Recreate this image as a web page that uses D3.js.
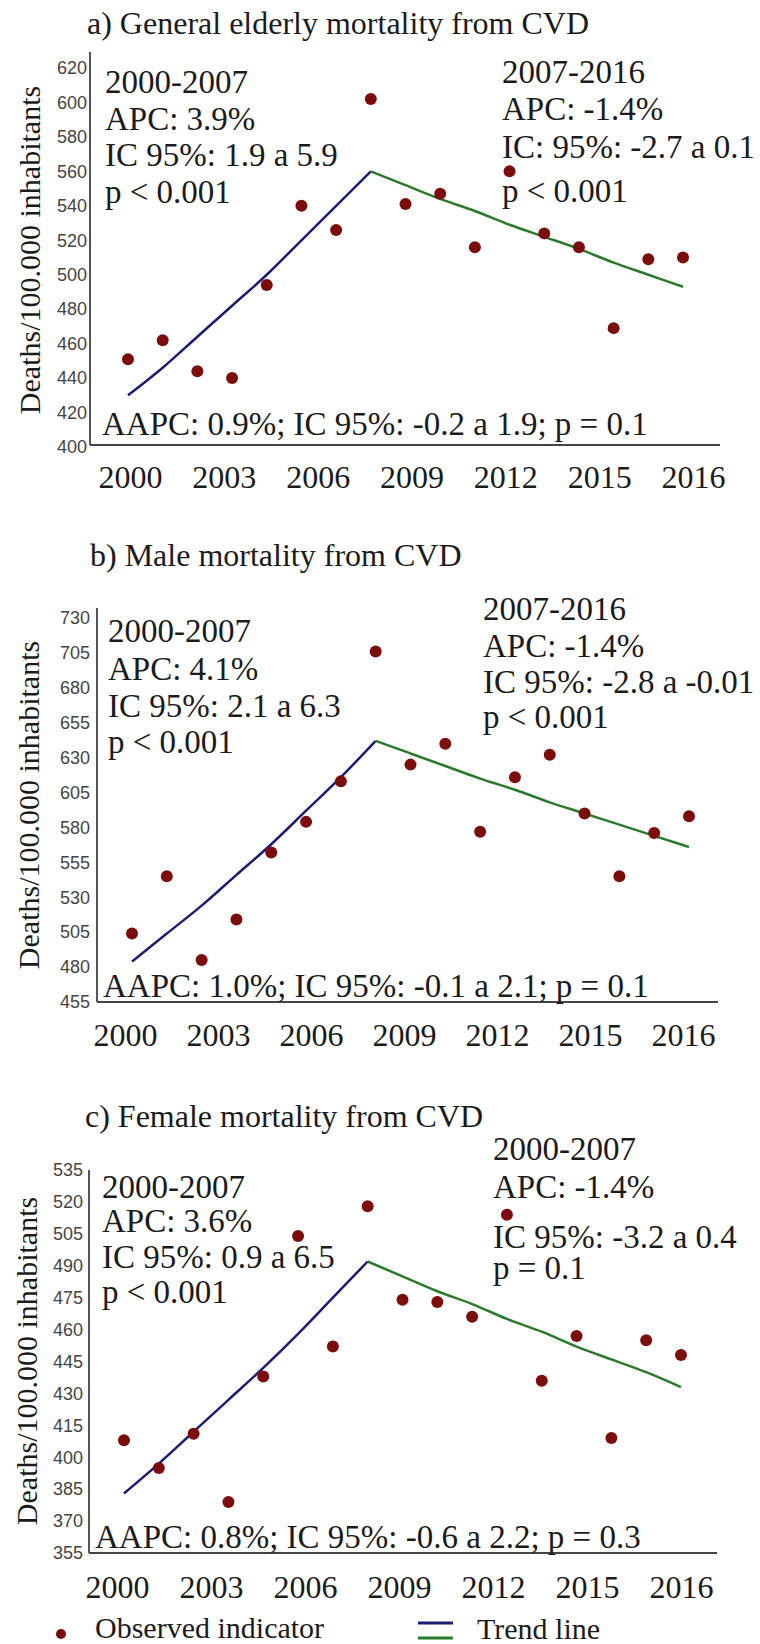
<!DOCTYPE html>
<html>
<head>
<meta charset="utf-8">
<script src="https://cdnjs.cloudflare.com/ajax/libs/d3/7.8.5/d3.min.js"></script>
<style>
  html, body { margin: 0; padding: 0; background: #fff; }
  svg { display: block; }
</style>
</head>
<body>
<svg id="MyGraph" width="760" height="1644"></svg>
<script>
var years = [2000, 2001, 2002, 2003, 2004, 2005, 2006, 2007, 2008, 2009, 2010, 2011, 2012, 2013, 2014, 2015, 2016];
var upYears = [2000, 2001, 2002, 2003, 2004, 2005, 2006, 2007];
var downYears = [2007, 2008, 2009, 2010, 2011, 2012, 2013, 2014, 2015, 2016];
var xTickLabels = ["2000", "2003", "2006", "2009", "2012", "2015", "2016"];

// a) general
var generalTicks = [400, 420, 440, 460, 480, 500, 520, 540, 560, 580, 600, 620];
var generalObserved = [451, 462, 444, 440, 494, 540, 526, 602, 541, 547, 516, 560, 524, 516, 469, 509, 510];
var generalTrendUp = [430, 446, 464, 482, 500, 520, 540, 560];
var generalTrendDown = [560, 552, 544, 537, 529, 522, 515, 507, 500, 493];
var generalLeftNote = ["2000-2007", "APC: 3.9%", "IC 95%: 1.9 a 5.9", "p < 0.001"];
var generalRightNote = ["2007-2016", "APC: -1.4%", "IC: 95%: -2.7 a 0.1", "p < 0.001"];
var generalAapc = "AAPC: 0.9%; IC 95%: -0.2 a 1.9; p = 0.1";

// b) male
var maleTicks = [455, 480, 505, 530, 555, 580, 605, 630, 655, 680, 705, 730];
var maleObserved = [504, 545, 485, 514, 562, 584, 613, 706, 625, 640, 577, 616, 632, 590, 545, 576, 588];
var maleTrendUp = [484, 504, 524, 546, 568, 592, 616, 642];
var maleTrendDown = [642, 633, 624, 615, 607, 598, 590, 582, 574, 566];
var maleLeftNote = ["2000-2007", "APC: 4.1%", "IC 95%: 2.1 a 6.3", "p < 0.001"];
var maleRightNote = ["2007-2016", "APC: -1.4%", "IC 95%: -2.8 a -0.01", "p < 0.001"];
var maleAapc = "AAPC: 1.0%; IC 95%: -0.1 a 2.1; p = 0.1";

// c) female
var femaleTicks = [355, 370, 385, 400, 415, 430, 445, 460, 475, 490, 505, 520, 535];
var femaleObserved = [408, 395, 411, 379, 438, 504, 452, 518, 474, 473, 466, 514, 436, 457, 409, 455, 448];
var femaleTrendUp = [383, 397, 412, 427, 442, 458, 475, 492];
var femaleTrendDown = [492, 485, 478, 472, 465, 459, 452, 446, 440, 433];
var femaleLeftNote = ["2000-2007", "APC: 3.6%", "IC 95%: 0.9 a 6.5", "p < 0.001"];
var femaleRightNote = ["2000-2007", "APC: -1.4%", "IC 95%: -3.2 a 0.4", "p = 0.1"];
var femaleAapc = "AAPC: 0.8%; IC 95%: -0.6 a 2.2; p = 0.3";

var yTitle = "Deaths/100.000 inhabitants";
var legendLabels = ["Observed indicator", "Trend line"];

var SERIF = '"Liberation Serif", "Times New Roman", serif';
var SANS = '"Liberation Sans", Arial, sans-serif';
var dotColor = "#7b0d0d", upColor = "#1c1c72", downColor = "#2b7a2b", ink = "#1b1b1b";

var panels = [
  { title: "a) General elderly mortality from CVD", ticks: generalTicks, observed: generalObserved,
    up: generalTrendUp, down: generalTrendDown, left: generalLeftNote, right: generalRightNote, aapc: generalAapc,
    titlePos: [87, 34], axisX: 90, top: 52, axisY: 445, yRange: [447, 68], xEnd: 720, labelRight: 87,
    yTitlePos: [40, 250], dotRange: [128, 683], labelRange: [130, 693], xLabelY: 488,
    leftPos: [105, [93, 129.5, 166, 202.5]], rightPos: [502, [83, 120, 158, 202]], aapcPos: [102, 435] },
  { title: "b) Male mortality from CVD", ticks: maleTicks, observed: maleObserved,
    up: maleTrendUp, down: maleTrendDown, left: maleLeftNote, right: maleRightNote, aapc: maleAapc,
    titlePos: [90, 566], axisX: 97, top: 608, axisY: 1002, yRange: [1002, 618], xEnd: 718, labelRight: 90,
    yTitlePos: [39, 805], dotRange: [132, 689], labelRange: [125, 683], xLabelY: 1046,
    leftPos: [108, [642, 680, 717, 753]], rightPos: [483, [620, 657, 693, 728]], aapcPos: [103, 997] },
  { title: "c) Female mortality from CVD", ticks: femaleTicks, observed: femaleObserved,
    up: femaleTrendUp, down: femaleTrendDown, left: femaleLeftNote, right: femaleRightNote, aapc: femaleAapc,
    titlePos: [85, 1127], axisX: 89, top: 1170, axisY: 1553, yRange: [1553, 1170], xEnd: 717, labelRight: 83,
    yTitlePos: [37, 1361], dotRange: [124, 681], labelRange: [117, 681], xLabelY: 1598,
    leftPos: [102, [1198, 1232, 1268, 1303]], rightPos: [493, [1160, 1198, 1248, 1279]], aapcPos: [95, 1548] }
];

var svg = d3.select("#MyGraph");

function drawPanel(p) {
  var g = svg.append("g");

  var x = d3.scaleLinear().domain([years[0], years[years.length - 1]]).range(p.dotRange);
  var xLab = d3.scalePoint().domain(xTickLabels).range(p.labelRange);
  var y = d3.scaleLinear().domain([p.ticks[0], p.ticks[p.ticks.length - 1]]).range(p.yRange);

  g.append("text")
      .attr("x", p.titlePos[0]).attr("y", p.titlePos[1])
      .style("font", "32px " + SERIF).attr("fill", ink)
      .text(p.title);

  // y tick labels
  var ya = g.append("g")
      .attr("transform", "translate(" + p.labelRight + ",0)")
      .call(d3.axisLeft(y).tickValues(p.ticks).tickSize(0).tickPadding(0));
  ya.select(".domain").remove();
  ya.selectAll("text").style("font", "18px " + SANS).attr("fill", "#444");

  // x tick labels
  var xa = g.append("g")
      .call(d3.axisBottom(xLab).tickSize(0));
  xa.select(".domain").remove();
  xa.selectAll("text")
      .attr("y", p.xLabelY).attr("dy", null)
      .style("font", "32px " + SERIF).attr("fill", ink);

  // axis lines
  g.append("line")
      .attr("x1", p.axisX).attr("x2", p.axisX).attr("y1", p.top).attr("y2", p.axisY)
      .attr("stroke", "#555").attr("stroke-width", 2);
  g.append("line")
      .attr("x1", p.axisX).attr("x2", p.xEnd).attr("y1", p.axisY).attr("y2", p.axisY)
      .attr("stroke", "#444").attr("stroke-width", 2);

  g.append("text")
      .attr("transform", "translate(" + p.yTitlePos[0] + "," + p.yTitlePos[1] + ") rotate(-90)")
      .attr("text-anchor", "middle")
      .style("font", "30px " + SERIF).attr("fill", ink)
      .text(yTitle);

  // notes
  [[p.left, p.leftPos], [p.right, p.rightPos]].forEach(function(n) {
    g.append("g").selectAll("text")
        .data(n[0])
        .enter().append("text")
        .attr("x", n[1][0])
        .attr("y", function(d, i) { return n[1][1][i]; })
        .style("font", "33px " + SERIF).attr("fill", ink)
        .text(function(d) { return d; });
  });

  g.append("text")
      .attr("x", p.aapcPos[0]).attr("y", p.aapcPos[1])
      .style("font", "33px " + SERIF).attr("fill", ink)
      .text(p.aapc);

  // trend lines
  var line = d3.line()
      .curve(d3.curveMonotoneX)
      .x(function(d) { return x(d[0]); })
      .y(function(d) { return y(d[1]); });

  g.append("path")
      .datum(d3.zip(upYears, p.up))
      .attr("d", line).attr("fill", "none")
      .attr("stroke", upColor).attr("stroke-width", 2.5);
  g.append("path")
      .datum(d3.zip(downYears, p.down))
      .attr("d", line).attr("fill", "none")
      .attr("stroke", downColor).attr("stroke-width", 2.5);

  // observed dots
  g.append("g")
      .attr("fill", dotColor)
      .selectAll("circle")
      .data(d3.zip(years, p.observed))
      .enter().append("circle")
      .attr("cx", function(d) { return x(d[0]); })
      .attr("cy", function(d) { return y(d[1]); })
      .attr("r", 6);
}

panels.forEach(drawPanel);

// legend
var legend = svg.append("g");
legend.append("circle").attr("cx", 61).attr("cy", 1634).attr("r", 5).attr("fill", dotColor);
legend.append("text").attr("x", 95).attr("y", 1638)
    .style("font", "30px " + SERIF).attr("fill", ink).text(legendLabels[0]);
legend.append("line").attr("x1", 418).attr("x2", 453).attr("y1", 1623).attr("y2", 1623)
    .attr("stroke", upColor).attr("stroke-width", 3);
legend.append("line").attr("x1", 418).attr("x2", 453).attr("y1", 1638).attr("y2", 1638)
    .attr("stroke", downColor).attr("stroke-width", 3);
legend.append("text").attr("x", 477).attr("y", 1639)
    .style("font", "30px " + SERIF).attr("fill", ink).text(legendLabels[1]);
</script>
</body>
</html>
